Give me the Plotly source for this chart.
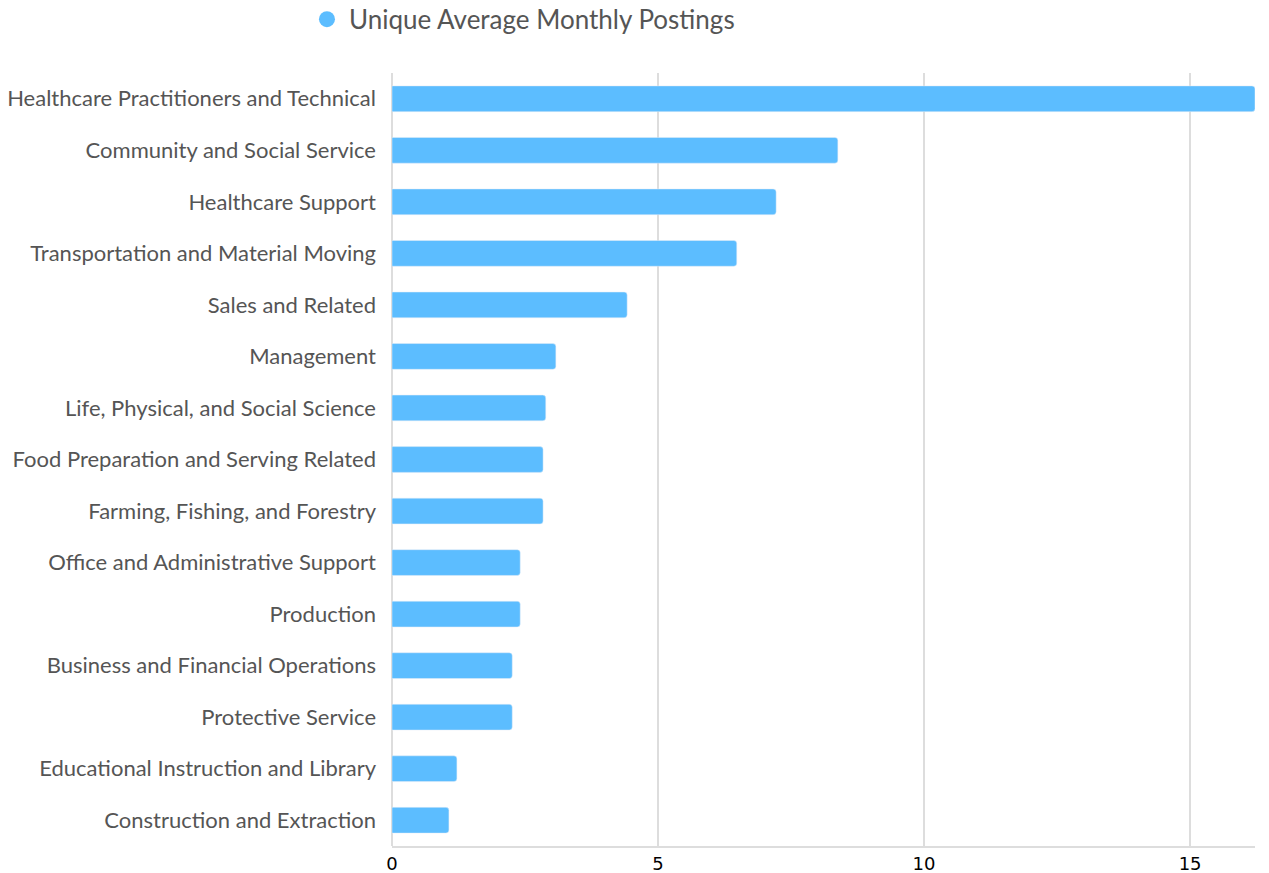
import plotly.graph_objects as go

categories = ['Healthcare Practitioners and Technical', 'Community and Social Service',
              'Healthcare Support', 'Transportation and Material Moving', 'Sales and Related',
              'Management', 'Life, Physical, and Social Science', 'Food Preparation and Serving Related',
              'Farming, Fishing, and Forestry', 'Office and Administrative Support', 'Production',
              'Business and Financial Operations', 'Protective Service',
              'Educational Instruction and Library', 'Construction and Extraction']
postings = [16.22, 8.38, 7.22, 6.48, 4.42, 3.08, 2.89, 2.84, 2.84, 2.41, 2.41, 2.26, 2.26, 1.22, 1.07]
series_name = 'Unique Average Monthly Postings'
tick_vals = [0, 5, 10, 15]

bar_color = '#5CBDFF'

fig = go.Figure()
fig.add_trace(go.Bar(y=categories, x=postings, orientation='h',
                     marker=dict(color=bar_color, cornerradius=3),
                     width=0.5, showlegend=False, name=series_name))
# trace fantôme pour avoir un rond dans la légende
fig.add_trace(go.Scatter(x=[None], y=[None], mode='markers', name=series_name,
                         marker=dict(color=bar_color, size=18, symbol='circle')))

# la page ajoute 8px de marge autour de la figure
fig.update_layout(
    width=1261, height=865,
    plot_bgcolor='white', paper_bgcolor='white',
    margin=dict(l=384, r=14, t=65, b=27),
    font=dict(family='Lato', size=22, color='#555555'),
    legend=dict(orientation='h', xref='container', yref='container', x=0.2355, y=0.987,
                xanchor='left', yanchor='middle', font=dict(size=26, color='#555555'),
                itemsizing='trace', itemwidth=34),
    bargap=0.5,
)
fig.update_yaxes(autorange='reversed', categoryorder='array', categoryarray=categories,
                 ticks='', ticklabelstandoff=15, showgrid=False, showline=False,
                 automargin=False)
fig.update_xaxes(range=[0, max(postings)], tickvals=tick_vals, showgrid=True,
                 gridcolor='#DDDDDD', gridwidth=2, zeroline=True, zerolinecolor='#DDDDDD',
                 zerolinewidth=2, showline=True, linecolor='#DDDDDD', linewidth=2,
                 tickfont=dict(family='DejaVu Sans', size=18, color='black'), ticks='',
                 automargin=False)

fig.write_html("out.html")
